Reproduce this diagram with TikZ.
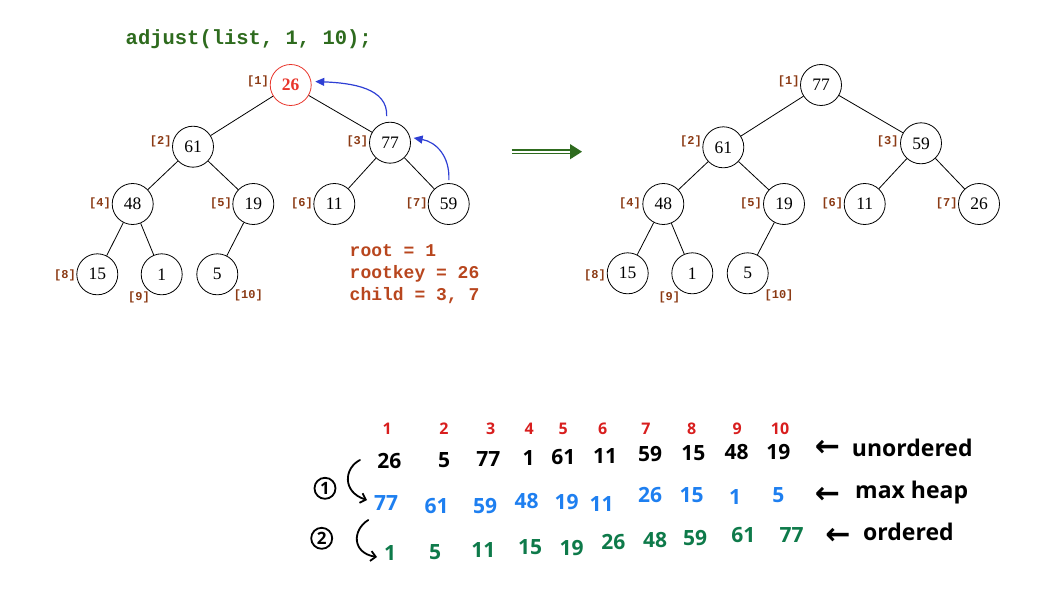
\documentclass[tikz,border=0pt]{standalone}
\usepackage{fontspec}
\setmainfont{Liberation Serif}
\newfontfamily\codefont{Liberation Mono}
\newfontfamily\handfont{Open Sans}
\newfontfamily\symfont{DejaVu Sans}
\usetikzlibrary{arrows.meta}

\definecolor{titlegreen}{HTML}{2E6B1E}
\definecolor{idxbrown}{HTML}{8B3A14}
\definecolor{codebrown}{HTML}{B8461E}
\definecolor{arrowblue}{HTML}{2E3FD4}
\definecolor{rootred}{HTML}{E8352B}
\definecolor{handred}{HTML}{D81E1E}
\definecolor{handblue}{HTML}{1E7FF0}
\definecolor{handgreen}{HTML}{0E7A4A}

\tikzset{
  heapnode/.style={circle, draw, line width=0.8pt, minimum size=41pt, inner sep=0pt,
    font=\fontsize{17.5}{17.5}\selectfont},
  rootnode/.style={heapnode, draw=rootred, text=rootred,
    font=\fontsize{17.5}{17.5}\selectfont\bfseries},
  idx/.style={inner sep=0pt, text=idxbrown,
    font=\codefont\bfseries\fontsize{12}{12}\selectfont},
  treeedge/.style={line width=0.8pt},
  swaparrow/.style={arrowblue, line width=1.2pt, -{Triangle[length=9pt,width=8pt]}},
  codeline/.style={anchor=base west, inner sep=0pt, text=codebrown,
    font=\codefont\bfseries\fontsize{18}{18}\selectfont},
  % digits are placed by their baseline, half a digit height below the given point
  handidx/.style={anchor=base, yshift=-5.7pt, inner sep=0pt, text=handred,
    font=\handfont\bfseries\fontsize{16}{16}\selectfont},
  handnum/.style={anchor=base, yshift=-7.5pt, inner sep=0pt,
    font=\handfont\bfseries\fontsize{21}{21}\selectfont},
  handword/.style={anchor=base west, inner sep=0pt, font=\handfont\bfseries\fontsize{23}{23}\selectfont},
  handarrow/.style={inner sep=0pt, font=\symfont\bfseries\fontsize{30}{30}\selectfont},
  stepmark/.style={circle, draw, line width=1.8pt, minimum size=21pt, inner sep=0pt,
    font=\handfont\bfseries\fontsize{17}{17}\selectfont},
  curlarrow/.style={line width=1.8pt, line cap=round, -{Straight Barb[length=5pt,width=10pt]}},
}

\begin{document}
\begin{tikzpicture}[x=1pt, y=-1pt]
\useasboundingbox (0,0) rectangle (1040,604);

% call being traced
\node[anchor=base west, inner sep=0pt, text=titlegreen,
      font=\codefont\bfseries\fontsize{20.5}{20.5}\selectfont]
  (title) at (125.5,45) {adjust(list, 1, 10);};

% ---------- heap before adjust ----------
\node[rootnode] (a1) at (290.7,85) {26};
\node[heapnode] (a2) at (193,146.7) {61};
\node[heapnode] (a3) at (390,142.7) {77};
\node[heapnode] (a4) at (132.7,204) {48};
\node[heapnode] (a5) at (253.3,204) {19};
\node[heapnode] (a6) at (334.3,204) {11};
\node[heapnode] (a7) at (448.7,204) {59};
\node[heapnode] (a8) at (97.3,274.3) {15};
\node[heapnode] (a9) at (161.7,274.3) {1};
\node[heapnode] (a10) at (217.3,274.3) {5};

\draw[treeedge] (a1) -- (a2);
\draw[treeedge] (a1) -- (a3);
\draw[treeedge] (a2) -- (a4);
\draw[treeedge] (a2) -- (a5);
\draw[treeedge] (a3) -- (a6);
\draw[treeedge] (a3) -- (a7);
\draw[treeedge] (a4) -- (a8);
\draw[treeedge] (a4) -- (a9);
\draw[treeedge] (a5) -- (a10);

\node[idx] (ai1) at (258,81) {[1]};
\node[idx] (ai2) at (160.7,141.7) {[2]};
\node[idx] (ai3) at (357.3,141.7) {[3]};
\node[idx] (ai4) at (100,203.3) {[4]};
\node[idx] (ai5) at (221,203.3) {[5]};
\node[idx] (ai6) at (302,203.3) {[6]};
\node[idx] (ai7) at (416.7,203.3) {[7]};
\node[idx] (ai8) at (65,275.3) {[8]};
\node[idx] (ai9) at (139,297.7) {[9]};
\node[idx] (ai10) at (248.3,295.3) {[10]};

% larger children moving up
\draw[swaparrow, shorten <=6pt, shorten >=4pt]
  (a3.100) .. controls (388,88) and (352,83) .. (a1.10);
\draw[swaparrow, shorten <=3pt, shorten >=3.5pt]
  (a7.90) .. controls (450,156) and (436,142) .. (a3.15);

\node[codeline] (c1) at (349.5,256.7) {root = 1};
\node[codeline] (c2) at (349.5,278.3) {rootkey = 26};
\node[codeline] (c3) at (349.5,300) {child = 3, 7};

% result arrow
\coordinate (resS) at (511.5,151.7);
\coordinate (resE) at (582,151.7);
\draw[titlegreen, line width=1.3pt, double=white, double distance=1.8pt,
      -{Triangle[length=12pt,width=15pt]}] (resS) -- (resE);

% ---------- heap after adjust ----------
\node[heapnode] (b1) at (821,85) {77};
\node[heapnode] (b2) at (723.3,147.3) {61};
\node[heapnode] (b3) at (921,143.3) {59};
\node[heapnode] (b4) at (663.3,204) {48};
\node[heapnode] (b5) at (784,204) {19};
\node[heapnode] (b6) at (864.7,204) {11};
\node[heapnode] (b7) at (979,204) {26};
\node[heapnode] (b8) at (627.7,273.3) {15};
\node[heapnode] (b9) at (692.3,273.3) {1};
\node[heapnode] (b10) at (747.7,273.3) {5};

\draw[treeedge] (b1) -- (b2);
\draw[treeedge] (b1) -- (b3);
\draw[treeedge] (b2) -- (b4);
\draw[treeedge] (b2) -- (b5);
\draw[treeedge] (b3) -- (b6);
\draw[treeedge] (b3) -- (b7);
\draw[treeedge] (b4) -- (b8);
\draw[treeedge] (b4) -- (b9);
\draw[treeedge] (b5) -- (b10);

\node[idx] (bi1) at (788.7,81.3) {[1]};
\node[idx] (bi2) at (691,141.7) {[2]};
\node[idx] (bi3) at (887.7,141.7) {[3]};
\node[idx] (bi4) at (630,203.3) {[4]};
\node[idx] (bi5) at (751,203.3) {[5]};
\node[idx] (bi6) at (832.3,203.3) {[6]};
\node[idx] (bi7) at (946.7,203.3) {[7]};
\node[idx] (bi8) at (595,275) {[8]};
\node[idx] (bi9) at (669.3,297.7) {[9]};
\node[idx] (bi10) at (779,295) {[10]};

% ---------- heap sort notes ----------
\node[handidx] (h1) at (387.3,428.3) {1};
\node[handidx] (h2) at (444,428.3) {2};
\node[handidx] (h3) at (490.7,428.3) {3};
\node[handidx] (h4) at (529.3,428.3) {4};
\node[handidx] (h5) at (563.3,428.3) {5};
\node[handidx] (h6) at (602.7,428.3) {6};
\node[handidx] (h7) at (646,428.3) {7};
\node[handidx] (h8) at (691.7,428.3) {8};
\node[handidx] (h9) at (737.3,428.3) {9};
\node[handidx] (h10) at (780,428.3) {10};

% unordered
\node[handnum] (u1) at (389.3,461) {26};
\node[handnum] (u2) at (444,460) {5};
\node[handnum] (u3) at (488.3,459) {77};
\node[handnum] (u4) at (528.7,458) {1};
\node[handnum] (u5) at (563.3,457) {61};
\node[handnum] (u6) at (605,456) {11};
\node[handnum] (u7) at (650,454) {59};
\node[handnum] (u8) at (693.3,453) {15};
\node[handnum] (u9) at (736.7,452) {48};
\node[handnum] (u10) at (778.3,452) {19};
\node[handarrow] (ua) at (827.5,448.5) {←};
\node[handword] (uw) at (851.7,456.7) {unordered};

% max heap
\node[handnum, text=handblue] (m1) at (386,503.3) {77};
\node[handnum, text=handblue] (m2) at (436.7,506) {61};
\node[handnum, text=handblue] (m3) at (485,506) {59};
\node[handnum, text=handblue] (m4) at (526.7,500.5) {48};
\node[handnum, text=handblue] (m5) at (566.7,501.7) {19};
\node[handnum, text=handblue] (m6) at (601.7,504) {11};
\node[handnum, text=handblue] (m7) at (650,495) {26};
\node[handnum, text=handblue] (m8) at (691.7,495) {15};
\node[handnum, text=handblue] (m9) at (735,496.7) {1};
\node[handnum, text=handblue] (m10) at (778.3,495) {5};
\node[handarrow] (ma) at (827.5,495) {←};
\node[handword] (mw) at (855,498.3) {max heap};

% ordered
\node[handnum, text=handgreen] (o1) at (390,553.3) {1};
\node[handnum, text=handgreen] (o2) at (435,551.7) {5};
\node[handnum, text=handgreen] (o3) at (483.3,550) {11};
\node[handnum, text=handgreen] (o4) at (530,546.7) {15};
\node[handnum, text=handgreen] (o5) at (571.7,548.3) {19};
\node[handnum, text=handgreen] (o6) at (613.3,541.7) {26};
\node[handnum, text=handgreen] (o7) at (655,540) {48};
\node[handnum, text=handgreen] (o8) at (695,538.3) {59};
\node[handnum, text=handgreen] (o9) at (743.3,535) {61};
\node[handnum, text=handgreen] (o10) at (791.7,535) {77};
\node[handarrow] (oa) at (838,536.7) {←};
\node[handword] (ow) at (863,540) {ordered};

% step marks with curled arrows
\node[stepmark] (s1) at (325,488.3) {1};
\node[stepmark] (s2) at (321.7,538.3) {2};
\coordinate (c1s) at (360,460);
\coordinate (c1e) at (367,500);
\coordinate (c2s) at (368.3,520);
\coordinate (c2e) at (377,557);
\draw[curlarrow] (c1s) .. controls (344,468) and (342,492) .. (c1e);
\draw[curlarrow] (c2s) .. controls (352,530) and (352,553) .. (c2e);
\end{tikzpicture}
\end{document}
